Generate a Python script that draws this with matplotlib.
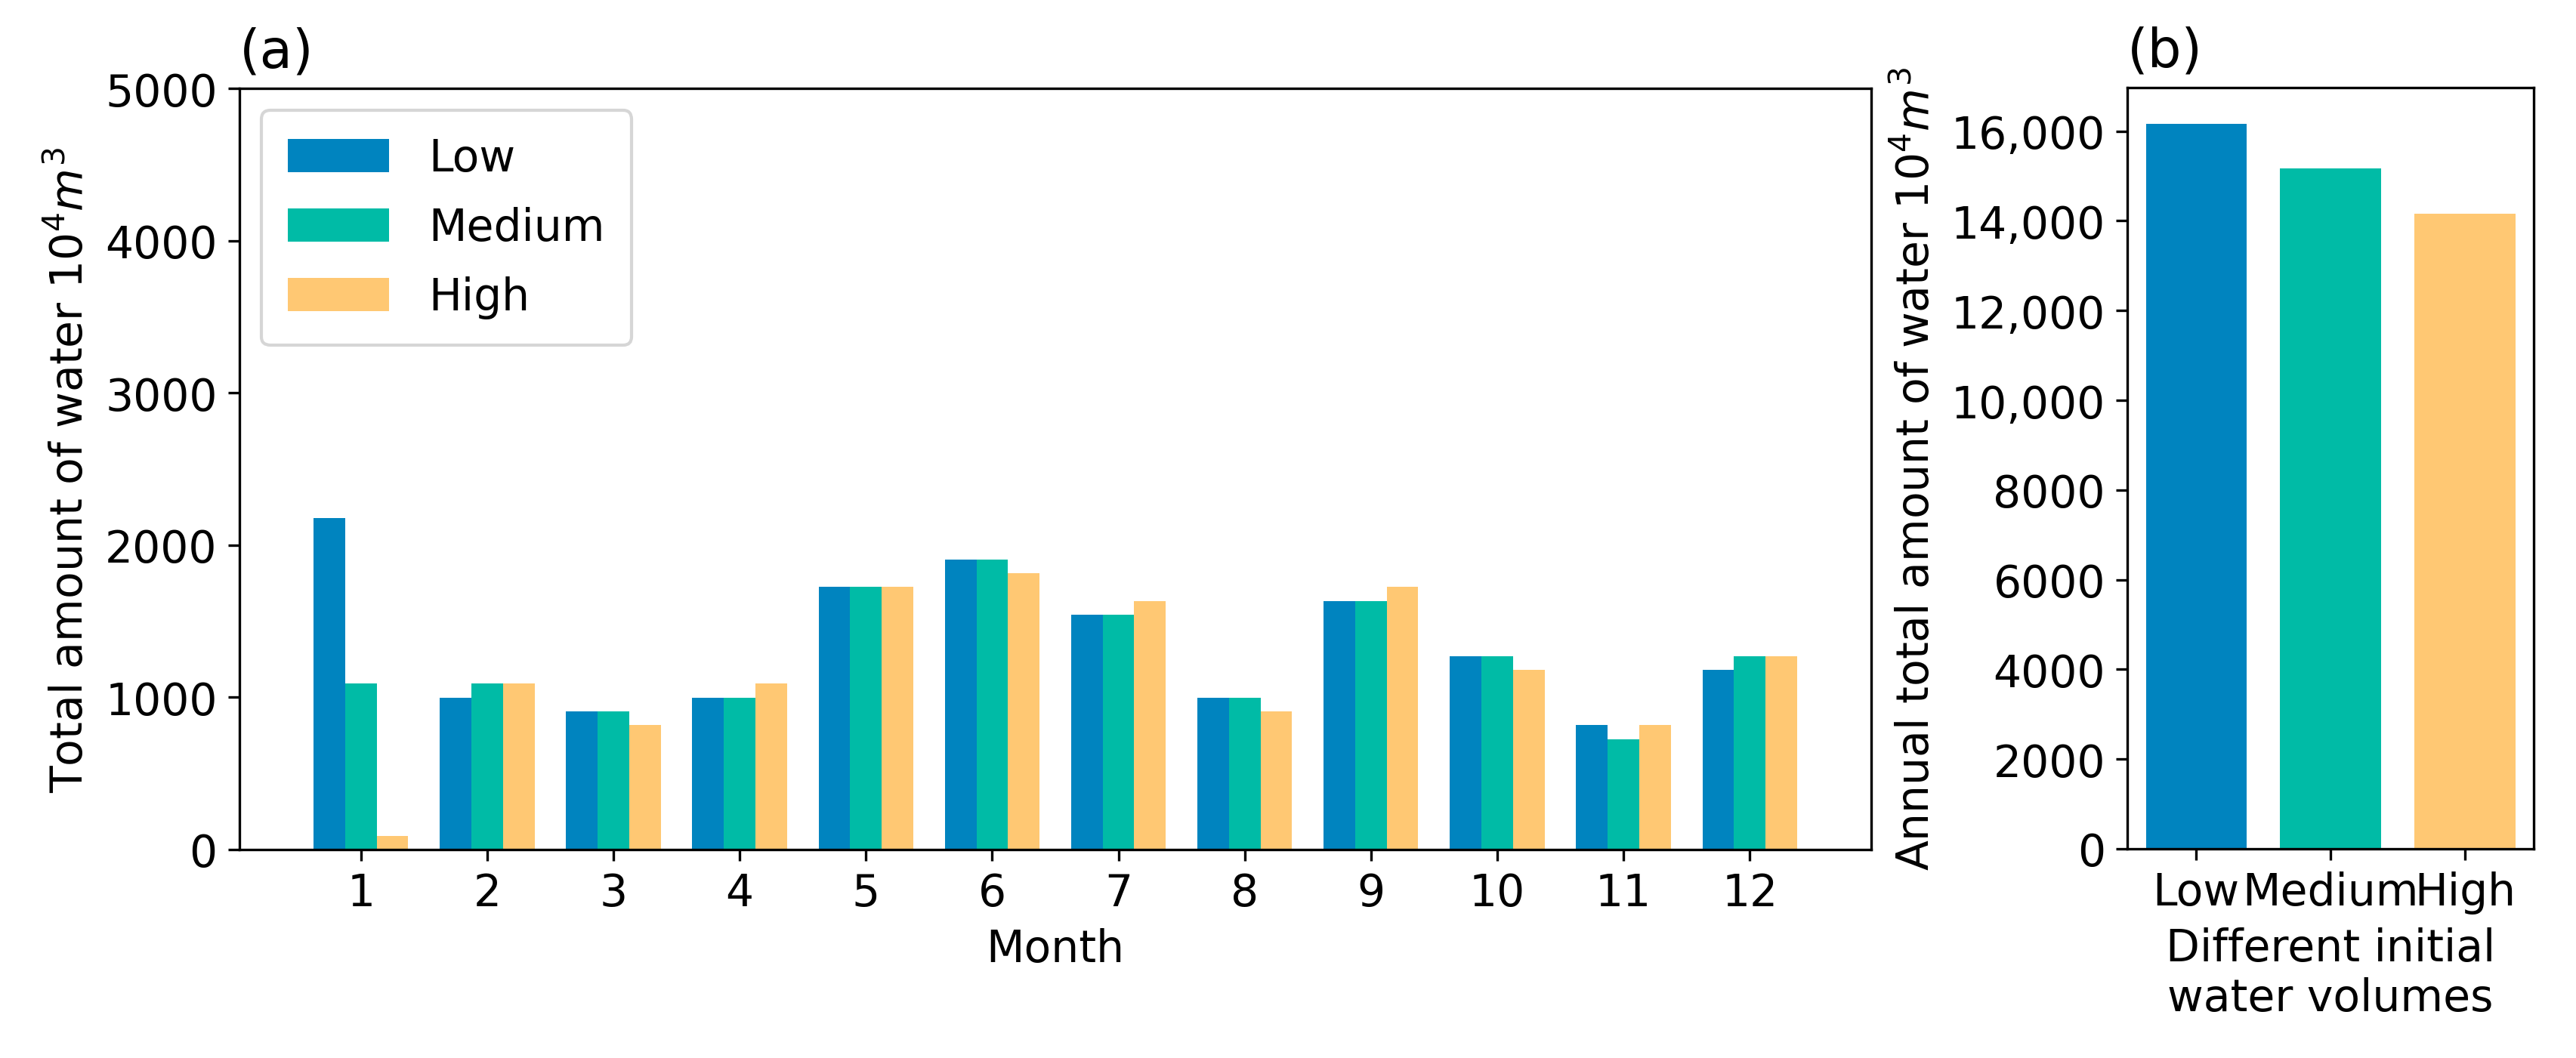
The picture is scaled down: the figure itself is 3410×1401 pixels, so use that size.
import matplotlib
matplotlib.use("Agg")
import matplotlib.pyplot as plt
import numpy as np
from matplotlib.ticker import FuncFormatter, MultipleLocator

months = [1, 2, 3, 4, 5, 6, 7, 8, 9, 10, 11, 12]
low = [2179, 999, 908, 999, 1725, 1907, 1544, 999, 1634, 1271, 817, 1180]
medium = [1090, 1090, 908, 999, 1725, 1907, 1544, 999, 1634, 1271, 726, 1271]
high = [91, 1090, 817, 1090, 1725, 1816, 1634, 908, 1725, 1180, 817, 1271]

scenarios = ["Low", "Medium", "High"]
annual = [16162, 15164, 14165]

COLORS = ["#0084BF", "#00BBA6", "#FFC873"]

plt.rcParams["font.family"] = "DejaVu Sans"

fig = plt.figure(figsize=(3411 / 300, 1402 / 300), dpi=300)

# panel (a): monthly totals
ax = fig.add_axes([0.0929, 0.1969, 0.6333, 0.7189])
x = np.array(months)
width = 0.25
for i, (vals, name) in enumerate(zip([low, medium, high], scenarios)):
    ax.bar(x + (i - 1) * width, vals, width, color=COLORS[i], label=name)
ax.set_xticks(x)
ax.set_ylim(0, 5000)
ax.set_yticks([0, 1000, 2000, 3000, 4000, 5000])
ax.tick_params(labelsize=14)
ax.set_xlabel("Month", fontsize=14)
ax.set_ylabel("Total amount of water $10^4m^3$", fontsize=14)
ax.legend(loc="upper left", fontsize=14, handlelength=2.3, handleheight=0.8,
          borderpad=0.6, labelspacing=0.6, handletextpad=0.9)
ax.text(0.0, 1.013, "(a)", transform=ax.transAxes, fontsize=17,
        ha="left", va="bottom")

# panel (b): annual totals
bx = fig.add_axes([0.8256, 0.1976, 0.1577, 0.7189])
bx.bar(np.arange(3), annual, 0.75, color=COLORS)
bx.set_xticks(np.arange(3))
bx.set_xticklabels(scenarios)
bx.yaxis.set_major_locator(MultipleLocator(2000))
bx.yaxis.set_major_formatter(
    FuncFormatter(lambda v, p: f"{v:,.0f}" if v >= 10000 else f"{v:.0f}"))
bx.tick_params(labelsize=14)
bx.set_xlabel("Different initial\nwater volumes", fontsize=14)
bx.set_ylabel("Annual total amount of water $10^4m^3$", fontsize=14)
bx.text(0.0, 1.013, "(b)", transform=bx.transAxes, fontsize=17,
        ha="left", va="bottom")

fig.savefig("out.png", dpi=300)
